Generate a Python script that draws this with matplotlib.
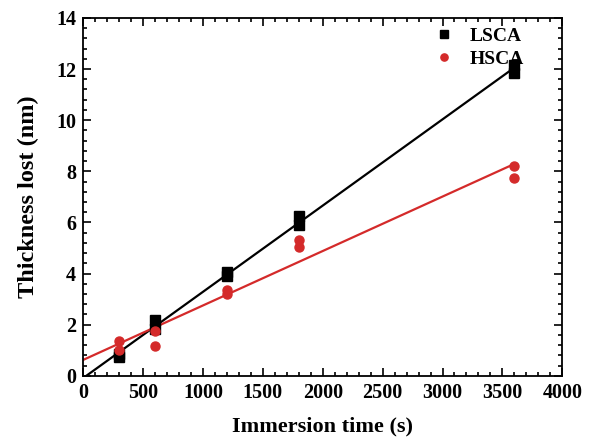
import numpy as np
import matplotlib.pyplot as plt
from matplotlib.ticker import MultipleLocator

plt.rcParams['font.family'] = 'Liberation Serif'
plt.rcParams['font.weight'] = 'bold'

# datos
t_lsca = [300, 300, 600, 600, 1200, 1200, 1800, 1800, 3600, 3600]
y_lsca = [0.72, 0.85, 2.18, 1.85, 3.92, 4.05, 5.9, 6.25, 11.85, 12.15]

t_hsca = [300, 300, 600, 600, 1200, 1200, 1800, 1800, 3600, 3600]
y_hsca = [1.38, 1.0, 1.75, 1.18, 3.22, 3.35, 5.02, 5.32, 7.75, 8.2]

fig = plt.figure(figsize=(5.9, 4.37), dpi=100)
ax = fig.add_axes([0.141, 0.140, 0.812, 0.819])

# ajustes lineales
for t, y, c in [(t_lsca, y_lsca, 'black'), (t_hsca, y_hsca, '#d42a2a')]:
    m, b = np.polyfit(t, y, 1)
    xx = np.array([0, 3600])
    ax.plot(xx, m * xx + b, color=c, lw=1.6, zorder=2)

ax.plot(t_lsca, y_lsca, 's', color='black', ms=6.5, label='LSCA', zorder=3)
ax.plot(t_hsca, y_hsca, 'o', color='#d42a2a', ms=6.5, label='HSCA', zorder=3)

ax.set_xlim(0, 4000)
ax.set_ylim(0, 14)
ax.xaxis.set_major_locator(MultipleLocator(500))
ax.xaxis.set_minor_locator(MultipleLocator(100))
ax.yaxis.set_major_locator(MultipleLocator(2))
ax.yaxis.set_minor_locator(MultipleLocator(0.4))
ax.tick_params(which='both', direction='in', top=True, right=True, labelsize=14.5, width=1.2)
ax.tick_params(which='major', length=6, pad=5)
ax.tick_params(which='minor', length=3)
for s in ax.spines.values():
    s.set_linewidth(1.3)

ax.set_xlabel('Immersion time (s)', fontsize=16, fontweight='bold', labelpad=10)
ax.set_ylabel('Thickness lost (nm)', fontsize=17.5, fontweight='bold', labelpad=12)

ax.legend(loc='upper right', frameon=False, fontsize=14, handletextpad=0.3,
          borderaxespad=0.1, bbox_to_anchor=(0.94, 1.0), markerscale=0.8,
          labelspacing=0.25)

plt.savefig('out.png', dpi=100)
